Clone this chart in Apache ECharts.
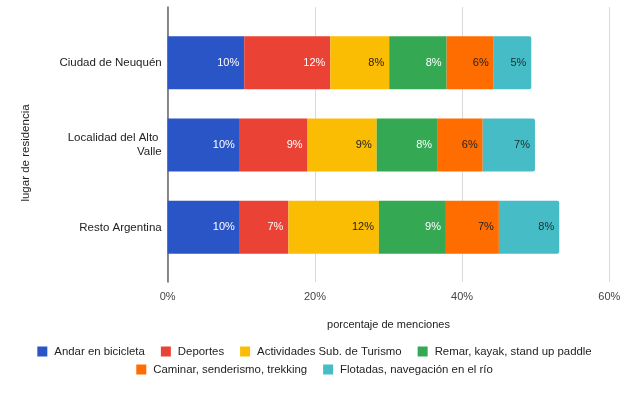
<!DOCTYPE html>
<html>
<head>
<meta charset="utf-8">
<script src="https://cdn.jsdelivr.net/npm/echarts@6/dist/echarts.min.js"></script>
<style>html,body{margin:0;padding:0;background:#fff}#c{width:629px;height:395px}</style>
</head>
<body>
<div id="c"></div>
<script>
const categories = ['Ciudad de Neuquén', 'Localidad del Alto Valle', 'Resto Argentina'];
const seriesNames = ['Andar en bicicleta', 'Deportes', 'Actividades Sub. de Turismo', 'Remar, kayak, stand up paddle', 'Caminar, senderismo, trekking', 'Flotadas, navegación en el río'];
const bicicleta = [10.4, 9.8, 9.8];
const deportes = [11.7, 9.2, 6.6];
const actividades = [8.0, 9.4, 12.3];
const remar = [7.8, 8.2, 9.1];
const caminar = [6.4, 6.2, 7.2];
const flotadas = [5.1, 7.1, 8.2];
const xTicks = [0, 20, 40, 60];

const colors = ['#2a55c7', '#ea4335', '#fbbc04', '#34a853', '#ff6d01', '#46bdc6'];
const labelColors = ['#ffffff', '#ffffff', '#222222', '#ffffff', '#222222', '#1a2e30'];
const values = [bicicleta, deportes, actividades, remar, caminar, flotadas];
const FONT = "'Liberation Sans', Arial, sans-serif";

const chart = echarts.init(document.getElementById('c'), null, {renderer: 'canvas'});
const series = values.map((v, i) => ({
  name: seriesNames[i],
  type: 'bar',
  stack: 'total',
  xAxisIndex: 1,
  yAxisIndex: 1,
  barWidth: 53,
  data: v,
  itemStyle: { color: colors[i], borderRadius: i === 5 ? [0, 2, 2, 0] : 0 },
  label: {
    show: true,
    position: 'insideRight',
    distance: 5,
    fontFamily: FONT,
    fontSize: 11,
    color: labelColors[i],
    formatter: p => Math.round(p.value) + '%'
  }
}));

const legendText = { fontFamily: FONT, fontSize: 11.4, color: '#222', padding: [0, 0, 0, 2] };

chart.setOption({
  animation: false,
  color: colors,
  textStyle: { fontFamily: FONT },
  grid: [
    { left: 167.7, right: 19.7, top: 7, bottom: 113 },
    { left: 167.7, right: 19.7, top: 21.5, bottom: 126.5 }
  ],
  legend: [
    {
      data: seriesNames.slice(0, 4),
      left: 'center', top: 341,
      itemWidth: 10, itemHeight: 10, itemGap: 16,
      icon: 'rect',
      textStyle: legendText
    },
    {
      data: seriesNames.slice(4),
      left: 'center', top: 359,
      itemWidth: 10, itemHeight: 10, itemGap: 16,
      icon: 'rect',
      textStyle: legendText
    }
  ],
  xAxis: [
    {
      gridIndex: 0, type: 'value', min: xTicks[0], max: xTicks[xTicks.length - 1], interval: 20,
      axisLine: { show: false }, axisTick: { show: false },
      splitLine: { show: true, lineStyle: { color: '#d9d9d9', width: 1 } },
      axisLabel: { formatter: '{value}%', color: '#444', fontSize: 11, fontFamily: FONT, margin: 9 },
      name: 'porcentaje de menciones', nameLocation: 'middle', nameGap: 37,
      nameTextStyle: { color: '#222', fontSize: 11, fontFamily: FONT }
    },
    {
      gridIndex: 1, type: 'value', min: xTicks[0], max: xTicks[xTicks.length - 1], show: false
    }
  ],
  yAxis: [
    {
      gridIndex: 0, type: 'category', data: [''],
      axisLine: { show: true, lineStyle: { color: '#666', width: 1.5 } },
      axisTick: { show: false }, axisLabel: { show: false }, splitLine: { show: false }
    },
    {
      gridIndex: 1, type: 'category', data: categories, inverse: true,
      axisLine: { show: false }, axisTick: { show: false },
      axisLabel: {
        color: '#222', fontSize: 11.5, fontFamily: FONT, margin: 6,
        width: 110, overflow: 'break', lineHeight: 14, align: 'right'
      }
    }
  ],
  graphic: [
    {
      type: 'text', x: 26, y: 153, rotation: Math.PI / 2,
      style: {
        text: 'lugar de residencia', fontFamily: FONT, fontSize: 11.5, fill: '#222',
        textAlign: 'center', textVerticalAlign: 'middle'
      }
    }
  ],
  series: series
});
</script>
</body>
</html>
